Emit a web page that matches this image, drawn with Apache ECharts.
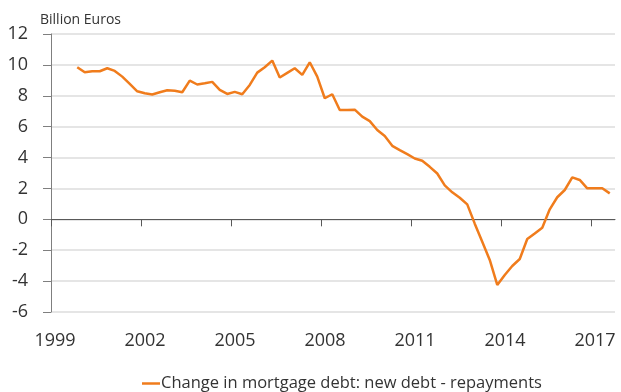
<!DOCTYPE html>
<html>
<head>
<meta charset="utf-8">
<script src="https://cdn.jsdelivr.net/npm/echarts@6/dist/echarts.min.js"></script>
<style>
  html, body { margin: 0; padding: 0; background: #fff; }
  #chart { width: 621px; height: 392px; }
</style>
</head>
<body>
<div id="chart"></div>
<script>
// Quarterly change in mortgage debt (new debt minus repayments), billion euros
const quarters = [
  '1999Q4',
  '2000Q1','2000Q2','2000Q3','2000Q4',
  '2001Q1','2001Q2','2001Q3','2001Q4',
  '2002Q1','2002Q2','2002Q3','2002Q4',
  '2003Q1','2003Q2','2003Q3','2003Q4',
  '2004Q1','2004Q2','2004Q3','2004Q4',
  '2005Q1','2005Q2','2005Q3','2005Q4',
  '2006Q1','2006Q2','2006Q3','2006Q4',
  '2007Q1','2007Q2','2007Q3','2007Q4',
  '2008Q1','2008Q2','2008Q3','2008Q4',
  '2009Q1','2009Q2','2009Q3','2009Q4',
  '2010Q1','2010Q2','2010Q3','2010Q4',
  '2011Q1','2011Q2','2011Q3','2011Q4',
  '2012Q1','2012Q2','2012Q3','2012Q4',
  '2013Q1','2013Q2','2013Q3','2013Q4',
  '2014Q1','2014Q2','2014Q3','2014Q4',
  '2015Q1','2015Q2','2015Q3','2015Q4',
  '2016Q1','2016Q2','2016Q3','2016Q4',
  '2017Q1','2017Q2','2017Q3'
];

const mortgageChange = [
  9.85,
  9.52, 9.59, 9.59, 9.78,
  9.61, 9.24, 8.77, 8.29,
  8.16, 8.08, 8.23, 8.36,
  8.32, 8.23, 8.98, 8.73,
  8.81, 8.90, 8.38, 8.12,
  8.25, 8.10, 8.70, 9.50,
  9.85, 10.28, 9.18, 9.48,
  9.78, 9.35, 10.17, 9.24,
  7.84, 8.10, 7.08, 7.08,
  7.10, 6.65, 6.36, 5.78,
  5.39, 4.76, 4.48, 4.22,
  3.94, 3.79, 3.40, 2.97,
  2.20, 1.75, 1.40, 0.97,
  -0.28, -1.45, -2.63, -4.25,
  -3.60, -3.02, -2.57, -1.27,
  -0.91, -0.54, 0.65, 1.43,
  1.90, 2.72, 2.55, 2.01,
  2.01, 2.01, 1.68
];

const yearTicks = [1999, 2002, 2005, 2008, 2011, 2014, 2017];
const seriesName = 'Change in mortgage debt: new debt - repayments';
const unitLabel = 'Billion Euros';

// place each quarter at its mid-point on a continuous year scale
function quarterToYear(label) {
  const year = parseInt(label.slice(0, 4), 10);
  const q = parseInt(label.slice(5), 10);
  return year + (q - 0.5) / 4;
}
const points = quarters.map((qLabel, i) => [quarterToYear(qLabel), mortgageChange[i]]);

const FONT = '"Open Sans", "Noto Sans", sans-serif';
const TEXT = '#333333';

const chart = echarts.init(document.getElementById('chart'), null, { renderer: 'canvas' });
chart.setOption({
  animation: false,
  backgroundColor: '#ffffff',
  textStyle: { fontFamily: FONT },
  title: {
    text: unitLabel,
    left: 35,
    top: 8,
    textStyle: { fontFamily: FONT, fontSize: 14, fontWeight: 'normal', color: TEXT }
  },
  legend: {
    left: 142,
    bottom: 0,
    padding: 0,
    icon: 'rect',
    itemWidth: 18,
    itemHeight: 2.5,
    textStyle: { fontFamily: FONT, fontSize: 16.5, color: TEXT, padding: [0, 0, 0, -4] },
    data: [seriesName]
  },
  grid: { left: 51, right: 6, top: 34, bottom: 80, containLabel: false },
  xAxis: [
    {
      // year labels along the bottom of the plot
      type: 'value',
      min: 1999,
      max: 2017.8,
      position: 'bottom',
      axisLine: { show: false, onZero: false },
      axisTick: { show: false },
      splitLine: { show: false },
      axisLabel: {
        customValues: yearTicks,
        fontFamily: FONT,
        fontSize: 18,
        color: TEXT,
        margin: 20,
        padding: [0, 0, 0, 8],
        formatter: v => String(v)
      }
    },
    {
      // horizontal axis line drawn through zero, with year ticks
      type: 'value',
      min: 1999,
      max: 2017.8,
      position: 'bottom',
      axisLine: { show: true, onZero: true, lineStyle: { color: '#595959', width: 1 } },
      axisTick: { show: true, customValues: yearTicks, length: 7, lineStyle: { color: '#595959', width: 1 } },
      axisLabel: { show: false },
      splitLine: { show: false }
    }
  ],
  yAxis: {
    type: 'value',
    min: -6,
    max: 12,
    interval: 2,
    axisLine: { show: true, lineStyle: { color: '#7f7f7f', width: 1 } },
    axisTick: { show: true, length: 8, lineStyle: { color: '#7f7f7f', width: 1 } },
    splitLine: { show: true, lineStyle: { color: '#dcdcdc', width: 1.5 } },
    axisLabel: { fontFamily: FONT, fontSize: 18, color: TEXT, margin: 23 }
  },
  series: [
    {
      name: seriesName,
      type: 'line',
      xAxisIndex: 0,
      data: points,
      symbol: 'none',
      smooth: false,
      color: '#f07c1c',
      lineStyle: { color: '#f07c1c', width: 2.5 },
      z: 5
    }
  ]
});
</script>
</body>
</html>
